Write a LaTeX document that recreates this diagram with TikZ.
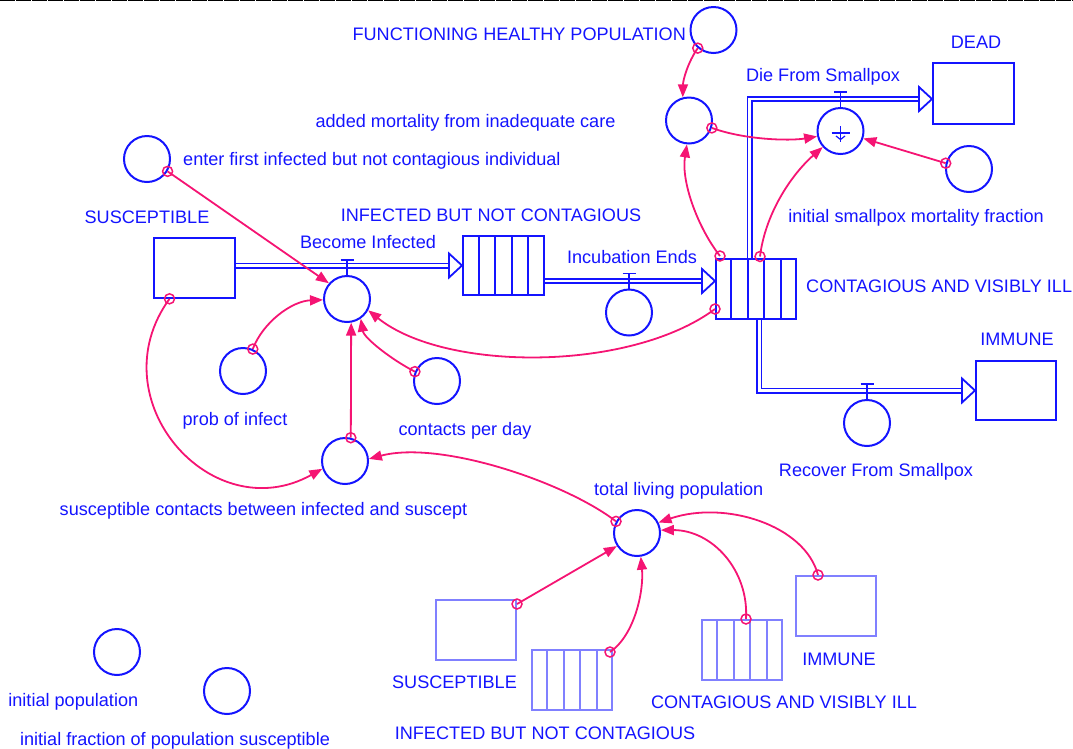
\documentclass[tikz,border=0pt]{standalone}
\usepackage{fontspec}
\setmainfont{Liberation Sans}
\usetikzlibrary{arrows.meta,calc}
\definecolor{sb}{RGB}{20,20,255}
\definecolor{cp}{RGB}{245,20,115}
\definecolor{gb}{RGB}{128,128,255}
\newcommand\lblfont{\fontsize{18.1}{21}\selectfont}
\newcommand\convdiv[2]{\foreach \k in {1,...,4}{\draw[#2, line width=2pt] ($(#1.north west)!\k/5!(#1.north east)$) -- ($(#1.south west)!\k/5!(#1.south east)$);}}
\pgfdeclarelayer{bg}
\pgfsetlayers{bg,main}
\begin{document}
\begin{tikzpicture}[x=1pt,y=-1pt,
  aux/.style={circle, draw=sb, line width=2pt, minimum size=46pt, inner sep=0pt},
  stockbox/.style={rectangle, draw=sb, line width=2pt, minimum width=81pt, minimum height=60pt, inner sep=0pt},
  ghost/.style={stockbox, draw=gb},
  lbl/.style={text=sb, font=\lblfont, inner sep=0pt, anchor=base},
  conn/.style={draw=cp, line width=1.8pt, -{Triangle[length=13pt,width=10pt]}},
  orig/.style={circle, draw=cp, line width=1.5pt, minimum size=10pt, inner sep=0pt},
  pipe/.style={draw=sb, line width=1.8pt, double=white, double distance=2.4pt},
  flowhead/.style={draw=sb, line width=1.8pt, fill=white, line join=miter},
  valvet/.style={draw=sb, line width=1.8pt}]
\useasboundingbox (0,0) rectangle (1073,748);
\draw[black, line width=1.2pt, dash pattern=on 15pt off 1pt] (0,0.6) -- (1073,0.6);

% stocks
\node[stockbox] (susc) at (194,267.8) {};
\node[stockbox, minimum height=59pt] (infect) at (503.5,265.5) {};
\node[stockbox, minimum width=80pt] (contag) at (756,289) {};
\node[stockbox, minimum height=61pt] (dead) at (973.5,93.5) {};
\node[stockbox, minimum width=80pt, minimum height=59pt] (immune) at (1016,390.5) {};
\convdiv{infect}{sb}
\convdiv{contag}{sb}
% ghosts
\node[ghost, minimum width=80pt] (gsusc) at (476,630) {};
\node[ghost, minimum width=80pt] (ginf) at (572,680) {};
\node[ghost, minimum width=80pt] (gcont) at (742,650) {};
\node[ghost, minimum width=80pt] (gimm) at (836,606) {};
\convdiv{ginf}{gb}
\convdiv{gcont}{gb}

% auxiliaries and valves
\node[aux] (fhp) at (713.5,30) {};
\node[aux] (amort) at (689,120.5) {};
\node[aux] (die) at (840.5,131) {};
\node[aux] (ismf) at (969,169) {};
\node[aux] (efi) at (147,159) {};
\node[aux] (become) at (347,299) {};
\node[aux] (incub) at (629,312.5) {};
\node[aux] (prob) at (243,371) {};
\node[aux] (cpd) at (437,381) {};
\node[aux] (scb) at (345,461) {};
\node[aux] (tlp) at (637,533) {};
\node[aux] (recov) at (867,423) {};
\node[aux] (ipop) at (117,652) {};
\node[aux] (ifrac) at (227,691) {};

% flows
\coordinate (inT) at ([yshift=8pt]contag.west);
\coordinate (dT) at ([yshift=-5.5pt]dead.west);
\coordinate (rT) at (immune.west);
\begin{pgfonlayer}{bg}
\draw[pipe] (susc.east |- infect.west) -- ([xshift=-13pt]infect.west);
\draw[pipe] (infect.east |- inT) -- ([xshift=-13pt]inT);
\draw[pipe] ([xshift=-6.5pt]contag.north) |- ([xshift=-13pt]dT);
\draw[pipe] ([xshift=3.3pt]contag.south) |- ([xshift=-13pt]rT);
\end{pgfonlayer}
\draw[flowhead] (infect.west) -- ++(-13,-12) -- ++(0,24) -- cycle;
\draw[flowhead] (inT) -- ++(-13,-12) -- ++(0,24) -- cycle;
\draw[flowhead] (dT) -- ++(-13,-12) -- ++(0,24) -- cycle;
\draw[flowhead] (rT) -- ++(-13,-12) -- ++(0,24) -- cycle;
\foreach \v in {become,incub,die,recov}{
  \draw[valvet] (\v.north) -- ++(0,-15) ++(-6.5,0) -- ++(13,0);
}
% symbol in Die From Smallpox
\draw[sb, line width=1.5pt] (die.center) ++(0,-5) -- ++(0,16);
\draw[sb, line width=1.5pt] (die.center) ++(-9,2) -- ++(18,0);
\draw[sb, line width=1.2pt] (die.center) ++(-4.5,5) -- ++(4.5,3.5) -- ++(4.5,-3.5);

% connectors
\draw[conn] (fhp.229) .. controls (688,62) and (683,80) .. (amort.105);
\node[orig] (o1) at (fhp.229) {};
\draw[conn] (amort.-18) .. controls (745,140) and (790,141) .. (die.193);
\node[orig] (o2) at (amort.-18) {};
\draw[conn] ([xshift=5pt,yshift=2pt]contag.north west) .. controls (698,228) and (681,182) .. (amort.265);
\node[orig] (o3) at ([xshift=5pt,yshift=2pt]contag.north west) {};
\draw[conn] ([xshift=45pt,yshift=1.5pt]contag.north west) .. controls (765,215) and (790,176) .. (die.222);
\node[orig] (o4) at ([xshift=45pt,yshift=1.5pt]contag.north west) {};
\draw[conn] (ismf.166) -- (die.342);
\node[orig] (o5) at (ismf.166) {};
\draw[conn] (efi.329) -- (become.139);
\node[orig] (o6) at (efi.329) {};
\draw[conn] ([xshift=17pt]susc.south west) .. controls (96.7,399.2) and (211.5,530.3) .. (scb.199);
\node[orig] (o7) at ([xshift=17pt]susc.south west) {};
\draw[conn] (prob.66) .. controls (263,322) and (292,301) .. (become.182);
\node[orig] (o8) at (prob.66) {};
\draw[conn] (cpd.157) .. controls (392,360) and (364,338) .. (become.305);
\node[orig] (o9) at (cpd.157) {};
\draw[conn] (scb.76) -- (become.280);
\node[orig] (o10) at (scb.76) {};
\draw[conn] ([yshift=-20pt]contag.west) .. controls (630,372) and (445,372) .. (become.332);
\node[orig] (o11) at ([yshift=-20pt]contag.west) {};
\draw[conn] (tlp.151) .. controls (565,482) and (440,440) .. (scb.5);
\node[orig] (o12) at (tlp.151) {};
\draw[conn] ([yshift=-5pt]gsusc.north east) -- (tlp.213);
\node[orig] (o13) at ([yshift=-5pt]gsusc.north east) {};
\draw[conn] ([xshift=-3pt,yshift=-3pt]ginf.north east) .. controls (635,635) and (644,590) .. (tlp.279);
\node[orig] (o14) at ([xshift=-3pt,yshift=-3pt]ginf.north east) {};
\draw[conn] ([xshift=45pt]gcont.north west) .. controls (749,570) and (712,530) .. (tlp.7);
\node[orig] (o15) at ([xshift=45pt]gcont.north west) {};
\draw[conn] ([xshift=23pt]gimm.north west) .. controls (805,525) and (725,500) .. (tlp.26);
\node[orig] (o16) at ([xshift=23pt]gimm.north west) {};

% labels
\node[lbl, anchor=base east] (tFHP) at (686,40.5) {FUNCTIONING HEALTHY POPULATION};
\node[lbl] (tAM) at (465.5,127.5) {added mortality from inadequate care};
\node[lbl, anchor=base west] (tEFI) at (183,165.7) {enter first infected but not contagious individual};
\node[lbl] (tS) at (147,223.3) {SUSCEPTIBLE};
\node[lbl] (tI) at (491,221.5) {INFECTED BUT NOT CONTAGIOUS};
\node[lbl] (tBI) at (368,248.3) {Become Infected};
\node[lbl] (tIE) at (632,263.3) {Incubation Ends};
\node[lbl] (tDFS) at (823,81) {Die From Smallpox};
\node[lbl] (tD) at (976,48.3) {DEAD};
\node[lbl] (tISM) at (916,222.7) {initial smallpox mortality fraction};
\node[lbl, anchor=base west] (tC) at (806,292.7) {CONTAGIOUS AND VISIBLY ILL};
\node[lbl] (tIM) at (1017,345) {IMMUNE};
\node[lbl] (tRFS) at (876,476.7) {Recover From Smallpox};
\node[lbl] (tP) at (235,425) {prob of infect};
\node[lbl] (tCPD) at (465,435) {contacts per day};
\node[lbl] (tSCB) at (263.5,515) {susceptible contacts between infected and suscept};
\node[lbl] (tTLP) at (678.7,495) {total living population};
\node[lbl] (tgS) at (454.5,688.3) {SUSCEPTIBLE};
\node[lbl] (tgI) at (545,739) {INFECTED BUT NOT CONTAGIOUS};
\node[lbl] (tgC) at (784,708.7) {CONTAGIOUS AND VISIBLY ILL};
\node[lbl] (tgIM) at (839,665) {IMMUNE};
\node[lbl] (tIP) at (73.3,706.7) {initial population};
\node[lbl] (tIF) at (175,745) {initial fraction of population susceptible};
\end{tikzpicture}
\end{document}
